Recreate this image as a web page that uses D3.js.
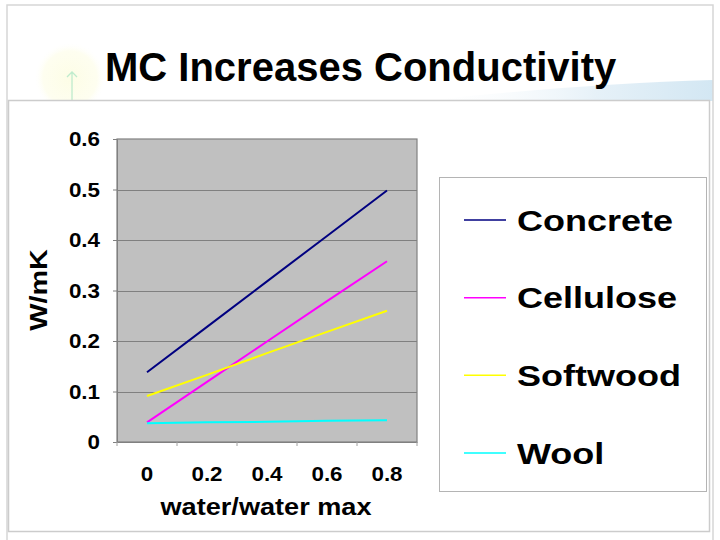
<!DOCTYPE html>
<html><head><meta charset="utf-8">
<script src="https://cdn.jsdelivr.net/npm/d3@7"></script>
<style>html,body{margin:0;padding:0;background:#fff;} text{font-family:"Liberation Sans",Arial,sans-serif;font-weight:bold;fill:#000;}</style>
</head><body><svg id="c" width="720" height="540"></svg>
<script>
const title = "MC Increases Conductivity";
const categories = ["0", "0.2", "0.4", "0.6", "0.8"];
const seriesNames = ["Concrete", "Cellulose", "Softwood", "Wool"];
const concrete  = [0.138, 0.228, 0.318, 0.408, 0.498];
const cellulose = [0.039, 0.119, 0.199, 0.279, 0.358];
const softwood  = [0.091, 0.133, 0.176, 0.218, 0.260];
const wool      = [0.037, 0.039, 0.040, 0.042, 0.043];
const yTicks = [0, 0.1, 0.2, 0.3, 0.4, 0.5, 0.6];
const xTitle = "water/water max";
const yTitle = "W/mK";
const colors = ["#000080", "#ff00ff", "#ffff00", "#00ffff"];
const seriesValues = [concrete, cellulose, softwood, wool];

const svg = d3.select("#c");
const defs = svg.append("defs");
const rg = defs.append("radialGradient").attr("id","glow");
rg.append("stop").attr("offset","0%").attr("stop-color","#fdfde6");
rg.append("stop").attr("offset","75%").attr("stop-color","#fefef0");
rg.append("stop").attr("offset","100%").attr("stop-color","#ffffff").attr("stop-opacity",0);
const lg = defs.append("linearGradient").attr("id","swoosh").attr("x1","0").attr("x2","1");
lg.append("stop").attr("offset","0%").attr("stop-color","#ffffff").attr("stop-opacity",0);
lg.append("stop").attr("offset","60%").attr("stop-color","#e6f1f8");
lg.append("stop").attr("offset","100%").attr("stop-color","#d3e7f3");

svg.append("rect").attr("width",720).attr("height",540).attr("fill","#fff");
// slide decorations
svg.append("circle").attr("cx",70).attr("cy",78).attr("r",36).attr("fill","url(#glow)");
svg.append("path").attr("d","M72,73 L72,100 M67,77 L72,72 L77,77").attr("stroke","#bfeccd").attr("stroke-width",1.3).attr("fill","none");
svg.append("path").attr("d","M420,101 Q580,84 713,80 L713,101 Z").attr("fill","url(#swoosh)");
svg.append("rect").attr("x",7).attr("y",5).attr("width",706).attr("height",545).attr("fill","none").attr("stroke","#d6d6d6").attr("stroke-width",1.5);

// title
svg.append("text").attr("x",105).attr("y",81).attr("font-size",40).text(title);

// chart area
svg.append("rect").attr("x",8.5).attr("y",100.5).attr("width",701).attr("height",431).attr("fill","#fff").attr("stroke","#cccccc").attr("stroke-width",1.5);

const plot = {l:117, r:417, t:139, b:442};
const x = d3.scaleBand().domain(categories).range([plot.l, plot.r]).paddingInner(0).paddingOuter(0);
const y = d3.scaleLinear().domain([0, 0.6]).range([plot.b, plot.t]);

svg.append("rect").attr("x",plot.l).attr("y",plot.t).attr("width",plot.r-plot.l).attr("height",plot.b-plot.t).attr("fill","#c0c0c0");
// gridlines
svg.append("g").selectAll("line").data(yTicks.slice(1,-1)).join("line")
  .attr("x1",plot.l).attr("x2",plot.r).attr("y1",d=>Math.round(y(d))+0.5).attr("y2",d=>Math.round(y(d))+0.5)
  .attr("stroke","#808080").attr("stroke-width",1);
svg.append("rect").attr("x",plot.l).attr("y",plot.t).attr("width",plot.r-plot.l).attr("height",plot.b-plot.t).attr("fill","none").attr("stroke","#808080").attr("stroke-width",1.2);

// axes
const yAxis = d3.axisLeft(y).tickValues(yTicks).tickSize(4).tickFormat(d=>d===0?"0":d3.format(".1f")(d));
const gy = svg.append("g").attr("transform",`translate(${plot.l},0)`).call(yAxis);
gy.select(".domain").attr("stroke","#808080");
gy.selectAll(".tick line").attr("stroke","#808080");
gy.selectAll(".tick text").remove();
const xAxis = d3.axisBottom(x).tickSize(0);
const gx = svg.append("g").attr("transform",`translate(0,${plot.b})`).call(xAxis);
gx.select(".domain").attr("stroke","#808080");
gx.selectAll(".tick text").remove();
// x tick marks between categories
const bounds = categories.map(c=>x(c)).concat([x(categories[categories.length-1])+x.bandwidth()]);
svg.append("g").selectAll("line").data(bounds).join("line")
  .attr("x1",d=>d).attr("x2",d=>d).attr("y1",plot.b).attr("y2",plot.b+4).attr("stroke","#a0a0a0");

function stretchText(g, tx, ty, txt, size, sx, anchor, rot) {
  return g.append("text")
    .attr("transform",`translate(${tx},${ty})` + (rot?` rotate(${rot})`:"") + ` scale(${sx},1)`)
    .attr("text-anchor",anchor).attr("font-size",size).attr("dy","0.35em").text(txt);
}
const labels = svg.append("g");
yTicks.forEach(v=>stretchText(labels, 100, y(v), v===0?"0":d3.format(".1f")(v), 20, 1.12, "end"));
categories.forEach(c=>stretchText(labels, x(c)+x.bandwidth()/2, 474, c, 20, 1.12, "middle"));
stretchText(labels, 266, 507, xTitle, 24, 1.13, "middle");
stretchText(labels, 39, 290, yTitle, 24, 1.2, "middle", -90);

// series lines
const line = d3.line().x((d,i)=>x(categories[i])+x.bandwidth()/2).y(d=>y(d));
svg.append("g").selectAll("path").data(seriesValues).join("path")
  .attr("d",d=>line(d)).attr("fill","none").attr("stroke",(d,i)=>colors[i]).attr("stroke-width",2);

// legend
svg.append("rect").attr("x",439.5).attr("y",177.5).attr("width",267).attr("height",314).attr("fill","#fff").attr("stroke","#b4b4b4").attr("stroke-width",1);
const ly = d3.scalePoint().domain(seriesNames).range([220, 453]);
const leg = svg.append("g").selectAll("g").data(seriesNames).join("g");
leg.append("line").attr("x1",464).attr("x2",506).attr("y1",d=>ly(d)).attr("y2",d=>ly(d))
  .attr("stroke",(d,i)=>colors[i]).attr("stroke-width",1.5);
leg.each(function(d){ stretchText(d3.select(this), 517, ly(d), d, 30, 1.2, "start"); });
</script></body></html>
